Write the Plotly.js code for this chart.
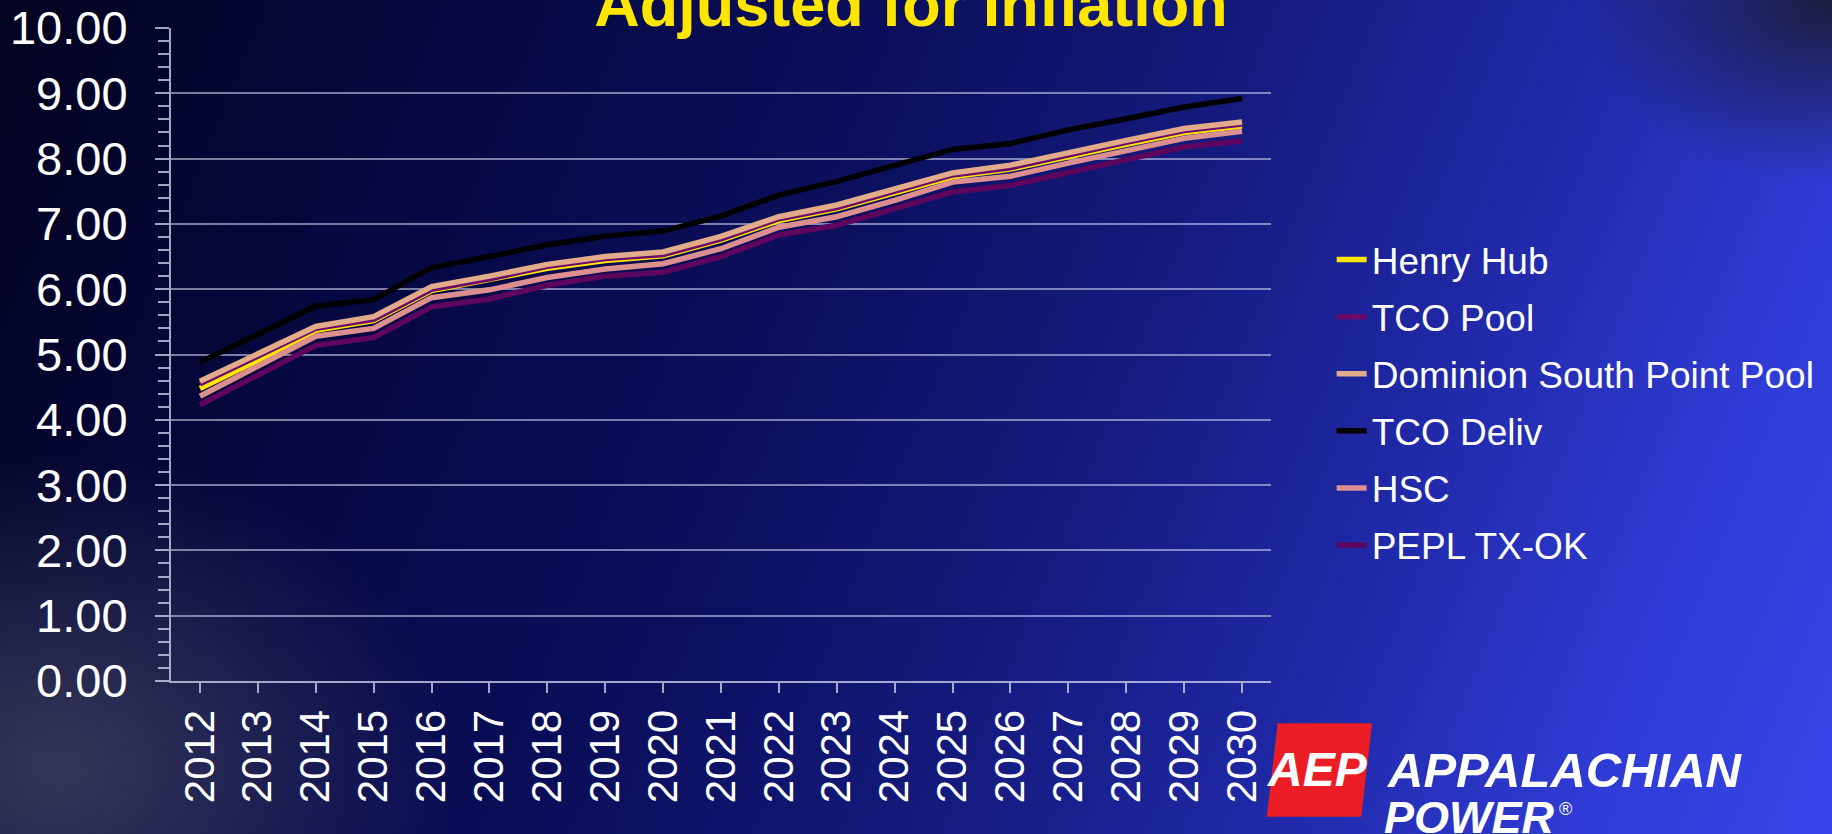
<!DOCTYPE html>
<html>
<head>
<meta charset="utf-8">
<script src="https://cdn.plot.ly/plotly-3.0.1.min.js"></script>
<style>
  html, body { margin: 0; padding: 0; width: 1832px; height: 834px; overflow: hidden; }
  body {
    background:
      radial-gradient(ellipse 22% 38% at 3% 92%, rgba(70,72,100,0.75), rgba(70,72,100,0) 100%),
      radial-gradient(ellipse 14% 22% at 100% 0%, rgba(25,25,45,0.9), rgba(25,25,45,0) 100%),
      linear-gradient(112deg, #02031f 0%, #060842 22%, #0b0f5c 42%, #141a7c 58%, #2029a8 74%, #2f3bd4 88%, #3746ea 100%);
  }
  #chart { width: 1832px; height: 834px; }
</style>
</head>
<body>
<div id="chart"></div>
<script>
// ---- data ----
const years = ["2012","2013","2014","2015","2016","2017","2018","2019","2020","2021",
               "2022","2023","2024","2025","2026","2027","2028","2029","2030"];
const henryHub   = [4.48,4.91,5.37,5.52,5.98,6.14,6.32,6.44,6.51,6.75,7.05,7.23,7.48,7.72,7.84,8.04,8.22,8.40,8.50];
const tcoPool    = [4.55,4.97,5.40,5.54,6.00,6.16,6.35,6.47,6.53,6.77,7.08,7.25,7.50,7.75,7.86,8.06,8.25,8.43,8.53];
const dominion   = [4.59,5.01,5.43,5.58,6.04,6.20,6.38,6.50,6.57,6.81,7.11,7.29,7.54,7.78,7.90,8.10,8.28,8.46,8.56];
const tcoDeliv   = [4.88,5.31,5.74,5.84,6.33,6.50,6.68,6.81,6.89,7.12,7.44,7.65,7.90,8.14,8.23,8.44,8.61,8.79,8.92];
const hsc        = [4.36,4.82,5.28,5.40,5.87,5.99,6.18,6.31,6.39,6.62,6.95,7.11,7.36,7.64,7.73,7.93,8.12,8.31,8.42];
const pepl       = [4.23,4.68,5.14,5.26,5.73,5.85,6.06,6.20,6.26,6.50,6.83,6.98,7.23,7.49,7.59,7.78,7.98,8.18,8.27];

const seriesNames  = ["Henry Hub","TCO Pool","Dominion South Point Pool","TCO Deliv","HSC","PEPL TX-OK"];
const seriesValues = [henryHub, tcoPool, dominion, tcoDeliv, hsc, pepl];
const seriesColors = ["#ffe600","#6c0a6c","#e2ac8a","#000000","#dd8f8f","#5e055e"];

const titleText = "Adjusted for Inflation";

// ---- layout geometry ----
const W = 1832, H = 834;
const M = {l: 171, r: 555, t: 28, b: 153};
const PW = W - M.l - M.r, PH = H - M.t - M.b;
const px = X => (X - M.l) / PW;
const py = Y => (H - M.b - Y) / PH;

const axisCol = "rgba(215,218,240,0.75)";
const gridCol = "rgba(200,205,235,0.6)";
const FONT = "Liberation Sans, Arial, sans-serif";

const traces = seriesNames.map((n, i) => ({
  type: "scatter", mode: "lines", name: n,
  x: years, y: seriesValues[i],
  legendgroup: "g" + i,
  line: {color: seriesColors[i], width: 5.5, shape: "linear"},
  hoverinfo: "skip"
}));

// red AEP parallelogram
const box = [[1283.7,723.3],[1378.6,723.3],[1367.7,816.7],[1272.8,816.7]];
const boxPath = "M" + box.map(p => px(p[0]).toFixed(5) + "," + py(p[1]).toFixed(5)).join("L") + "Z";

const layout = {
  width: W, height: H,
  margin: M,
  paper_bgcolor: "rgba(0,0,0,0)",
  plot_bgcolor: "rgba(0,0,0,0)",
  font: {family: FONT, color: "#ffffff"},
  showlegend: true,
  title: {
    text: "<b>" + titleText + "</b>",
    font: {family: FONT, size: 63, color: "#ffe600"},
    x: 911 / W, xref: "container", xanchor: "center",
    y: 1, yref: "paper", yanchor: "bottom",
    pad: {b: 2}
  },
  xaxis: {
    type: "category", range: [-0.5, 18.5], fixedrange: true,
    showline: true, linecolor: axisCol, linewidth: 2,
    showgrid: false, zeroline: false,
    ticks: "outside", ticklen: 10, tickwidth: 2, tickcolor: axisCol,
    tickangle: -90, tickfont: {family: FONT, size: 42, color: "#ffffff"},
    ticklabelstandoff: 0
  },
  xaxis2: {
    overlaying: "x", anchor: "y", type: "linear", range: [-0.5, 18.5],
    tickmode: "linear", tick0: -0.5, dtick: 1,
    ticks: "outside", ticklen: 12, tickwidth: 2, tickcolor: axisCol,
    showticklabels: false, showgrid: false, zeroline: false, showline: false
  },
  xaxis3: {
    overlaying: "x", anchor: "y", type: "linear", range: [-0.5, 18.5],
    tickmode: "linear", tick0: 0, dtick: 1,
    ticks: "inside", ticklen: 10, tickwidth: 2, tickcolor: axisCol,
    showticklabels: false, showgrid: false, zeroline: false, showline: false
  },
  yaxis: {
    range: [0, 10], fixedrange: true, tickmode: "linear", tick0: 0, dtick: 1,
    tickformat: ".2f",
    showline: true, linecolor: axisCol, linewidth: 2,
    showgrid: true, gridcolor: gridCol, gridwidth: 2, zeroline: false,
    ticks: "outside", ticklen: 14, tickwidth: 2, tickcolor: axisCol,
    minor: {dtick: 0.2, ticks: "outside", ticklen: 11, tickwidth: 2, tickcolor: axisCol, showgrid: false},
    tickfont: {family: FONT, size: 47, color: "#ffffff"},
    ticklabelstandoff: 18
  },
  yaxis2: {
    overlaying: "y", anchor: "x", side: "left", range: [0, 10],
    tickmode: "linear", tick0: 0, dtick: 1,
    ticks: "inside", ticklen: 14, tickwidth: 2, tickcolor: axisCol,
    minor: {dtick: 0.2, ticks: "inside", ticklen: 11, tickwidth: 2, tickcolor: axisCol, showgrid: false},
    showticklabels: false, showgrid: false, zeroline: false, showline: false
  },
  legend: {
    x: px(1338), xanchor: "left", y: py(229), yanchor: "top",
    bgcolor: "rgba(0,0,0,0)", borderwidth: 0,
    font: {family: FONT, size: 37, color: "#ffffff"},
    traceorder: "grouped", tracegroupgap: 6, itemwidth: 30
  },
  shapes: [
    {type: "path", xref: "paper", yref: "paper", path: boxPath,
     fillcolor: "#ec1c24", line: {width: 0}, layer: "above"}
  ],
  annotations: [
    {xref: "paper", yref: "paper", x: px(1324), y: py(769), xanchor: "center", yanchor: "middle",
     text: "<b><i>AEP</i></b>", showarrow: false, borderpad: 0,
     font: {family: FONT, size: 48, color: "#ffffff"}},
    {xref: "paper", yref: "paper", x: px(1393), y: py(770), xanchor: "left", yanchor: "middle",
     text: "<b><i>APPALACHIAN</i></b>", showarrow: false, borderpad: 0,
     font: {family: FONT, size: 49, color: "#ffffff"}},
    {xref: "paper", yref: "paper", x: px(1390), y: py(817), xanchor: "left", yanchor: "middle",
     text: "<b><i>POWER</i></b>", showarrow: false, borderpad: 0,
     font: {family: FONT, size: 45, color: "#ffffff"}},
    {xref: "paper", yref: "paper", x: px(1573), y: py(809), xanchor: "center", yanchor: "middle",
     text: "®", showarrow: false, borderpad: 0,
     font: {family: FONT, size: 18, color: "#ffffff"}}
  ]
};

Plotly.newPlot("chart", traces, layout, {staticPlot: true, displayModeBar: false});
</script>
</body>
</html>
